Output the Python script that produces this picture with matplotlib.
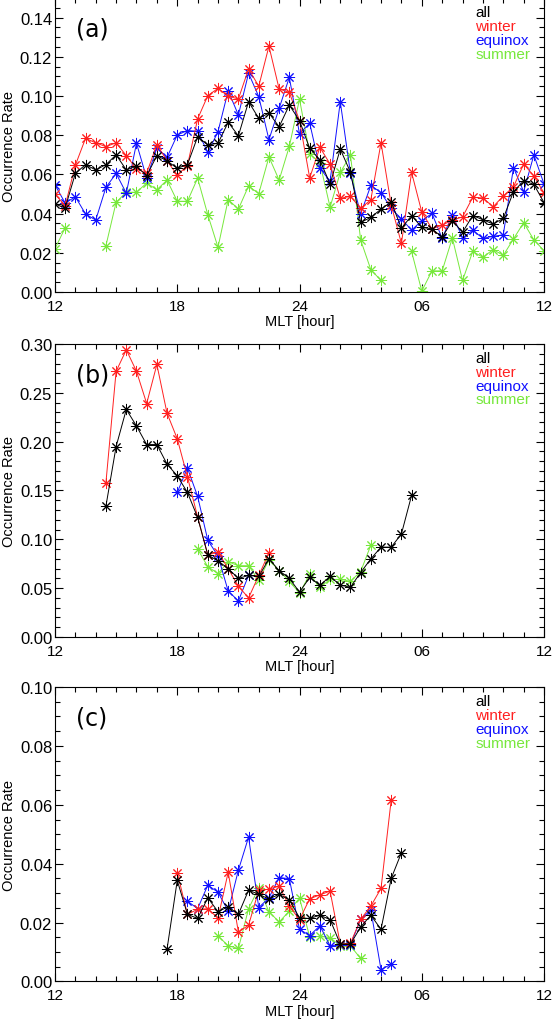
import numpy as np
import matplotlib
matplotlib.use('Agg')
import matplotlib.pyplot as plt
import matplotlib.ticker as ticker

plt.rcParams['font.family'] = ['Liberation Sans', 'DejaVu Sans']

nan = np.nan

# MLT bin centres (half-hour bins, 12 -> 12 next day)
mlt = [12.0, 12.5, 13.0, 13.5, 14.0, 14.5, 15.0, 15.5, 16.0, 16.5, 17.0, 17.5,
       18.0, 18.5, 19.0, 19.5, 20.0, 20.5, 21.0, 21.5, 22.0, 22.5, 23.0, 23.5,
       24.0, 24.5, 25.0, 25.5, 26.0, 26.5, 27.0, 27.5, 28.0, 28.5, 29.0, 29.5,
       30.0, 30.5, 31.0, 31.5, 32.0, 32.5, 33.0, 33.5, 34.0, 34.5, 35.0, 35.5, 36.0]
xtick_pos = [12, 18, 24, 30, 36]
xtick_lab = ['12', '18', '24', '06', '12']

# panel (a)
a_all = [0.0449, 0.0429, 0.0605, 0.065, 0.0623, 0.065, 0.070, 0.0623, 0.0642, 0.0593,
         0.0696, 0.0669, 0.0631, 0.065, 0.0792, 0.075, 0.0759, 0.0866, 0.0797, 0.0971,
         0.0886, 0.0913, 0.0843, 0.0954, 0.0874, 0.0733, 0.0673, 0.0551, 0.0729, 0.0611,
         0.0355, 0.0381, 0.0423, 0.046, 0.0325, 0.039, 0.033, 0.0322, 0.028, 0.0364,
         0.0305, 0.039, 0.0369, 0.0347, 0.0376, 0.0512, 0.0568, 0.0549, 0.0456]
a_winter = [0.050, 0.044, 0.0647, 0.0784, 0.0761, 0.0742, 0.0761, 0.0696, 0.0628, 0.0607,
            0.0752, 0.0669, 0.0597, 0.0645, 0.0883, 0.1002, 0.1039, 0.0999, 0.0985, 0.1138,
            0.105, 0.1254, 0.1036, 0.1018, 0.0874, 0.0582, 0.0738, 0.0653, 0.0478, 0.0488,
            0.0427, 0.0471, 0.0761, 0.0444, 0.0248, 0.061, 0.0408, 0.0322, 0.0341, 0.0367,
            0.0383, 0.0483, 0.048, 0.0435, 0.049, 0.0537, 0.0653, 0.0592, 0.0505]
a_equinox = [0.0546, 0.0454, 0.0486, 0.0398, 0.0367, 0.0534, 0.0605, 0.0504, 0.0759, 0.0581,
             0.0735, 0.0687, 0.0801, 0.0824, 0.082, 0.0712, 0.0818, 0.1027, 0.0903, 0.1116,
             0.0997, 0.0777, 0.0937, 0.1095, 0.0807, 0.0862, 0.0631, 0.0566, 0.0971, 0.0605,
             0.0398, 0.0544, 0.0507, 0.0427, 0.0373, 0.0316, 0.0364, 0.0401, 0.0274, 0.0394,
             0.0277, 0.0315, 0.0274, 0.0284, 0.0292, 0.0635, 0.0512, 0.0699, 0.0551]
a_summer = [0.0221, 0.0328, nan, nan, nan, 0.0236, 0.0458, 0.0509, 0.0509, 0.0556,
            0.0522, 0.0571, 0.0463, 0.0463, 0.0581, 0.0394, 0.0228, 0.0472, 0.0423, 0.0541,
            0.0502, 0.0689, 0.0571, 0.0743, 0.0984, 0.0705, 0.0659, 0.0433, 0.061, 0.0699,
            0.0266, 0.0114, 0.0059, nan, nan, 0.0207, 0.0005, 0.0108, 0.0108, 0.0276,
            0.0059, 0.0207, 0.0177, 0.0217, 0.0187, 0.0271, 0.0354, 0.0266, 0.0211]

# panel (b)
b_all = [nan]*5 + [0.134, 0.195, 0.233, 0.216, 0.197, 0.197, 0.177, 0.165, 0.148, 0.1225,
                   0.084, 0.078, 0.070, 0.060, 0.063, 0.062, 0.080, 0.068, 0.060, 0.046,
                   0.061, 0.053, 0.062, 0.053, 0.051, 0.066, 0.080, 0.092, 0.092, 0.1055,
                   0.145] + [nan]*13
b_winter = [nan]*5 + [0.158, 0.272, 0.294, 0.272, 0.239, 0.279, 0.229, 0.203, 0.164, 0.123,
                      0.084, 0.087, 0.070, 0.052, 0.040, 0.063, 0.086] + [nan]*27
b_equinox = [nan]*12 + [0.148, 0.173, 0.144, 0.099, 0.083, 0.047, 0.037, 0.063] + [nan]*29
b_summer = [nan]*14 + [0.090, 0.072, 0.065, 0.077, 0.073, 0.073, 0.058, 0.079, 0.068, 0.057,
                       0.045, 0.064, 0.051, 0.059, 0.059, 0.057, 0.067, 0.094] + [nan]*17

# panel (c)
c_all = [nan]*11 + [0.011, 0.0343, 0.0228, 0.0214, 0.0284, 0.0237, 0.0254, 0.0228, 0.031, 0.0296,
                    0.028, 0.0296, 0.0277, 0.0216, 0.0214, 0.0225, 0.021, 0.0127, 0.0127, 0.0185,
                    0.0225, 0.0177, 0.035, 0.0437] + [nan]*14
c_winter = [nan]*12 + [0.037, 0.0228, 0.0245, 0.0247, 0.0215, 0.0371, 0.0168, 0.0191, 0.031, 0.0313,
                       0.0324, 0.0256, 0.021, 0.0281, 0.0294, 0.0307, 0.0127, 0.013, 0.0211, 0.0256,
                       0.0316, 0.0617] + [nan]*15
c_equinox = [nan]*13 + [0.0273, 0.0247, 0.0327, 0.0303, 0.0239, 0.0378, 0.049, 0.0251, 0.0284, 0.0353,
                        0.0349, 0.0177, 0.0156, 0.0189, 0.0121, 0.0125, 0.0125, 0.0211, 0.0243, 0.004,
                        0.0059] + [nan]*15
c_summer = [nan]*16 + [0.0155, 0.0121, 0.0112, 0.0247, 0.0318, 0.0237, 0.0202, 0.0239, 0.0284, 0.0151,
                       0.0153, 0.0149, 0.0121, 0.0121, 0.0078] + [nan]*18

names = ['all', 'winter', 'equinox', 'summer']
colors = ['black', '#ff2020', '#1010ff', '#77e83c']

panels = [
    ('(a)', [a_all, a_winter, a_equinox, a_summer], 0.15, 0.02, 0.005, [0.7127, 0.2883]),
    ('(b)', [b_all, b_winter, b_equinox, b_summer], 0.30, 0.05, 0.01, [0.3745, 0.2873]),
    ('(c)', [c_all, c_winter, c_equinox, c_summer], 0.10, 0.02, 0.005, [0.0368, 0.2887]),
]

fig = plt.figure(figsize=(5.52, 10.2), dpi=100)
star = (8, 2, 0)

for tag, series, ymax, major, minor, (bot, h) in panels:
    ax = fig.add_axes([0.0996, bot, 0.886, h])
    # draw summer first, all on top
    for k in [3, 2, 1, 0]:
        ax.plot(mlt, series[k], color=colors[k], lw=0.7, marker=star,
                markersize=8, markeredgewidth=0.7)
    ax.set_xlim(12, 36)
    ax.set_ylim(0, ymax)
    ax.set_xticks(xtick_pos)
    ax.set_xticklabels(xtick_lab)
    ax.xaxis.set_minor_locator(ticker.MultipleLocator(1))
    ax.yaxis.set_major_locator(ticker.MultipleLocator(major))
    ax.yaxis.set_minor_locator(ticker.MultipleLocator(minor))
    ax.yaxis.set_major_formatter(ticker.FormatStrFormatter('%.2f'))
    ax.tick_params(which='both', direction='in', top=True, right=True, width=0.8)
    ax.tick_params(which='major', length=6)
    ax.tick_params(which='minor', length=3.5)
    ax.tick_params(axis='y', labelsize=12, pad=2)
    ax.tick_params(axis='x', labelsize=11, pad=5)
    for s in ax.spines.values():
        s.set_linewidth(0.8)
    ax.set_xlabel('MLT [hour]', fontsize=10.5, labelpad=1)
    ax.set_ylabel('Occurrence Rate', fontsize=10.5, va='center')
    ax.yaxis.set_label_coords(-0.094, 0.5)
    ax.text(0.043, 0.895, tag, transform=ax.transAxes, fontsize=17,
            family='DejaVu Sans', va='center', ha='left')
    for k in range(4):
        ax.text(0.859, 0.952 - 0.047*k, names[k], transform=ax.transAxes,
                color=colors[k], fontsize=11, va='center', ha='left')

fig.savefig('out.png', dpi=100)
